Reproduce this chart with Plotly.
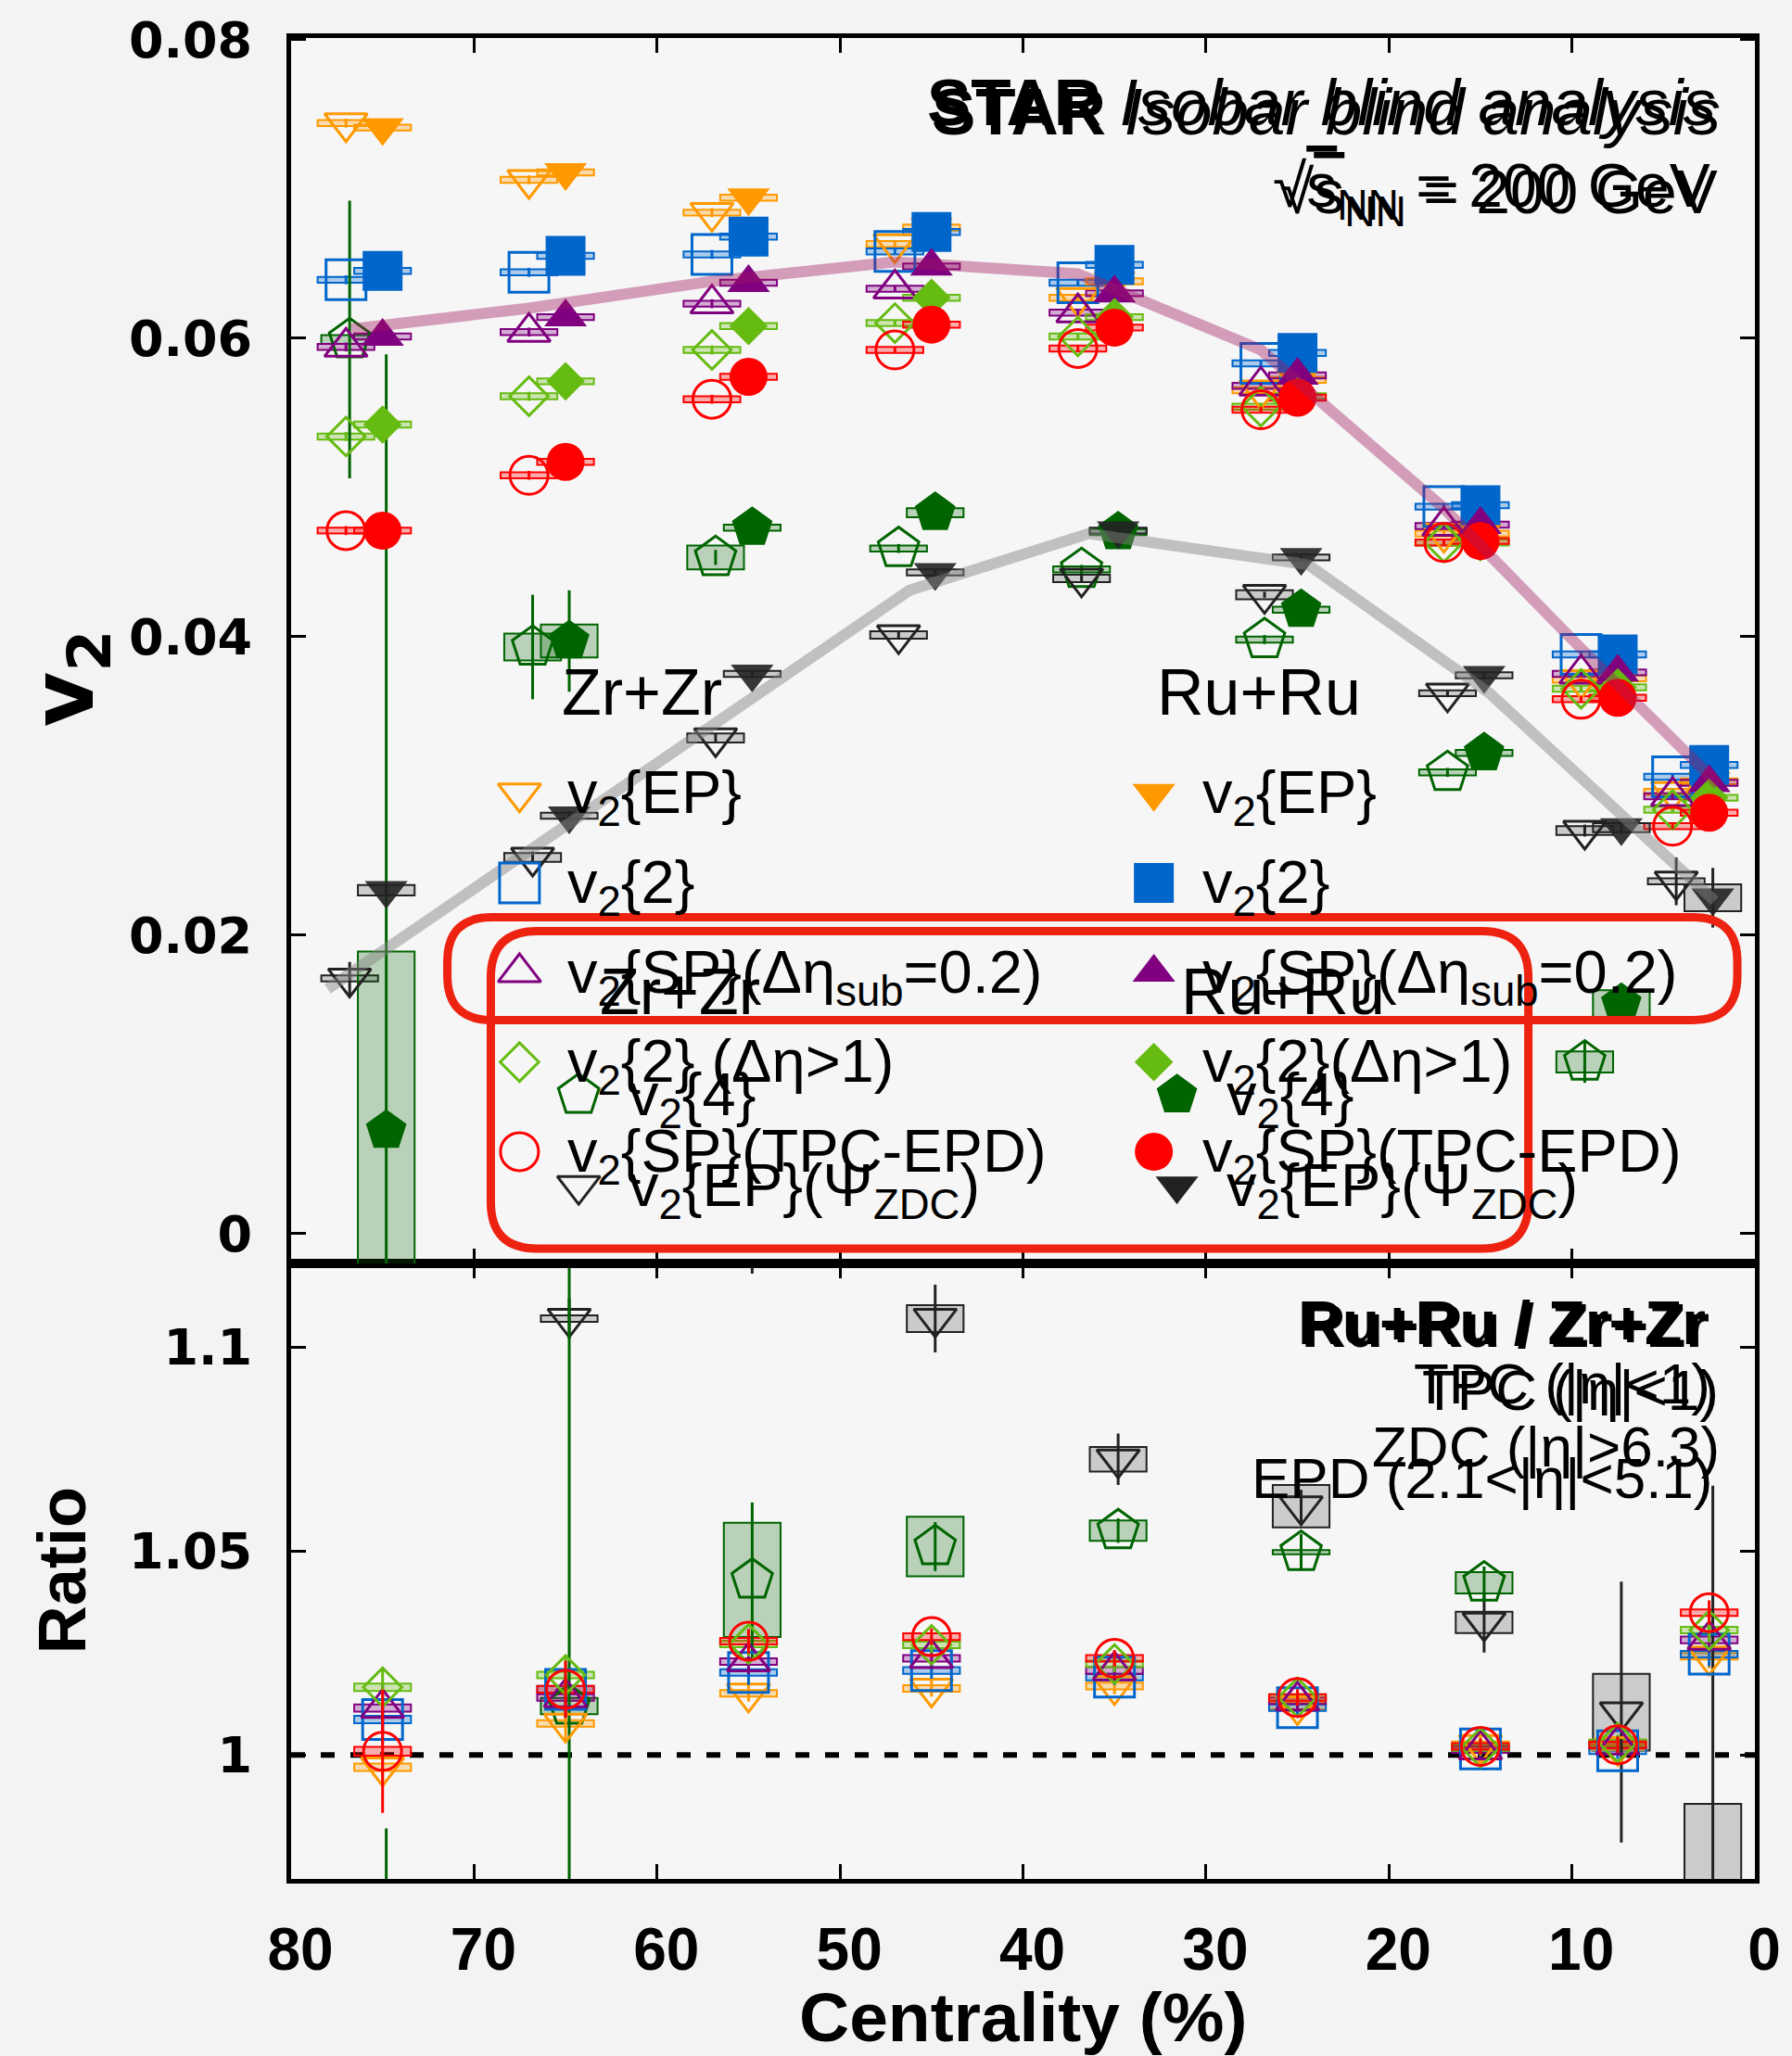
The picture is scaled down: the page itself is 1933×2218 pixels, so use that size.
import plotly.graph_objects as go

# ---------------------------------------------------------------
# Centrality bins (%) and v2 measured in Zr+Zr and Ru+Ru
# ---------------------------------------------------------------
bin_centers = [75, 65, 55, 45, 35, 25, 15, 7.5, 2.5]

zr_v2_ep  = [0.0744, 0.0706, 0.0684, 0.0663, 0.0627, 0.0565, 0.0469, 0.0371, 0.0296]
ru_v2_ep  = [0.0741, 0.0711, 0.0694, 0.0674, 0.0638, 0.0572, 0.0469, 0.0372, 0.0303]
zr_v2_2   = [0.0639, 0.0644, 0.0656, 0.0658, 0.0637, 0.0583, 0.0487, 0.0388, 0.0306]
ru_v2_2   = [0.0645, 0.0655, 0.0668, 0.0671, 0.0649, 0.0590, 0.0488, 0.0388, 0.0314]
zr_v2_sp  = [0.0594, 0.0604, 0.0623, 0.0633, 0.0617, 0.0568, 0.0474, 0.0375, 0.0293]
ru_v2_sp  = [0.0601, 0.0614, 0.0637, 0.0648, 0.0630, 0.0575, 0.0475, 0.0376, 0.0302]
zr_v2_gap = [0.0534, 0.0561, 0.0592, 0.0610, 0.0601, 0.0554, 0.0463, 0.0365, 0.0284]
ru_v2_gap = [0.0542, 0.0571, 0.0608, 0.0627, 0.0614, 0.0561, 0.0463, 0.0366, 0.0292]
zr_v2_epd = [0.0471, 0.0508, 0.0559, 0.0592, 0.0593, 0.0552, 0.0463, 0.0358, 0.0273]
ru_v2_epd = [0.0471, 0.0517, 0.0574, 0.0609, 0.0607, 0.0560, 0.0464, 0.0359, 0.0282]
zr_v2_4   = [0.0599, 0.0393, 0.0453, 0.0459, 0.0445, 0.0398, 0.0309, 0.0115, None]
ru_v2_4   = [0.0069, 0.0397, 0.0473, 0.0483, 0.0470, 0.0418, 0.0322, 0.0154, None]
zr_v2_zdc = [0.0171, 0.0252, 0.0332, 0.0401, 0.0439, 0.0428, 0.0362, 0.0270, 0.0236]
ru_v2_zdc = [0.0230, 0.0280, 0.0375, 0.0443, 0.0471, 0.0453, 0.0374, 0.0272, 0.0225]

# statistical / systematic uncertainties on v2
v2_stat_tpc = [0.0003, 0.0003, 0.0003, 0.0002, 0.0002, 0.0002, 0.0002, 0.0002, 0.0002]
v2_sys_tpc  = [0.0002, 0.0002, 0.0002, 0.0002, 0.0002, 0.0002, 0.0002, 0.0002, 0.0002]
zr_v2_4_stat   = [0.0093, 0.0035, 0.0005, 0.0003, 0.0003, 0.0003, 0.0003, 0.0014, None]
ru_v2_4_stat   = [0.0520, 0.0034, 0.0003, 0.0003, 0.0003, 0.0003, 0.0003, 0.0005, None]
zr_v2_4_sys    = [0.0003, 0.0009, 0.0008, 0.0002, 0.0002, 0.0002, 0.0002, 0.0007, None]
ru_v2_4_sys    = [0.0120, 0.0011, 0.0002, 0.0003, 0.0002, 0.0002, 0.0002, 0.0009, None]
zr_v2_zdc_stat = [0.0011, 0.0004, 0.0003, 0.0002, 0.0002, 0.0002, 0.0002, 0.0004, 0.0016]
ru_v2_zdc_stat = [0.0004, 0.0003, 0.0002, 0.0002, 0.0002, 0.0002, 0.0002, 0.0004, 0.0020]
zr_v2_zdc_sys  = [0.0002, 0.0003, 0.0003, 0.00025, 0.00025, 0.0003, 0.0002, 0.0003, 0.0002]
ru_v2_zdc_sys  = [0.00035, 0.0002, 0.0002, 0.0002, 0.0002, 0.0002, 0.0002, 0.0003, 0.0009]

# Ru+Ru / Zr+Zr ratios
ratio_ep  = [0.997, 1.0077, 1.0151, 1.0163, 1.0169, 1.0120, 1.0025, 1.0020, 1.0242]
ratio_2   = [1.0087, 1.0161, 1.0202, 1.0207, 1.0191, 1.0116, 1.0015, 1.0010, 1.0247]
ratio_sp  = [1.0115, 1.0141, 1.0229, 1.0237, 1.0207, 1.0133, 1.0013, 1.0025, 1.0282]
ratio_gap = [1.0166, 1.0196, 1.0272, 1.0270, 1.0223, 1.0141, 1.0018, 1.0030, 1.0306]
ratio_epd = [1.0009, 1.0161, 1.0279, 1.0290, 1.0237, 1.0141, 1.0021, 1.0025, 1.0349]
ratio_4   = [0.115, 1.012, 1.0429, 1.0511, 1.0550, 1.0497, 1.0422, 1.333, None]
ratio_zdc = [1.345, 1.107, 1.130, 1.107, 1.0725, 1.061, 1.0325, 1.0105, 0.953]

ratio_ep_stat  = [0.004, 0.004, 0.002, 0.002, 0.002, 0.002, 0.002, 0.002, 0.003]
ratio_2_stat   = [0.006, 0.005, 0.003, 0.002, 0.002, 0.002, 0.002, 0.002, 0.003]
ratio_sp_stat  = [0.006, 0.005, 0.003, 0.002, 0.002, 0.002, 0.002, 0.002, 0.003]
ratio_gap_stat = [0.005, 0.005, 0.003, 0.002, 0.002, 0.002, 0.002, 0.002, 0.003]
ratio_epd_stat = [0.0151, 0.007, 0.003, 0.002, 0.002, 0.002, 0.002, 0.002, 0.003]
ratio_4_stat   = [0.867, 0.200, 0.019, 0.006, 0.003, 0.0045, 0.004, 0.100, None]
ratio_zdc_stat = [0.050, 0.005, 0.012, 0.0083, 0.0063, 0.004, 0.0074, 0.032, 0.113]
ratio_sys_tpc  = [0.0009, 0.0008, 0.0008, 0.0008, 0.0008, 0.0008, 0.0008, 0.0008, 0.0008]
ratio_epd_sys  = [0.0011, 0.0008, 0.0008, 0.0008, 0.0008, 0.0008, 0.0008, 0.0008, 0.0008]
ratio_4_sys    = [0.100, 0.002, 0.014, 0.0073, 0.0025, 0.0005, 0.0026, 0.020, None]
ratio_zdc_sys  = [0.010, 0.0008, 0.005, 0.0033, 0.003, 0.0052, 0.0026, 0.0094, 0.035]

# guide curves drawn through the v2 bands
guide_tpc_cent = [76.7, 67, 57, 47, 37, 27, 17, 9.5, 2.0]
guide_tpc_v2   = [0.0606, 0.0620, 0.0638, 0.0651, 0.0643, 0.0592, 0.0486, 0.0392, 0.0301]
guide_zdc_cent = [78.0, 46.2, 36.4, 24.4, 14.5, 2.2]
guide_zdc_v2   = [0.0164, 0.0431, 0.0469, 0.0448, 0.0362, 0.0223]

# ---------------------------------------------------------------
# Page geometry (pixels)
# ---------------------------------------------------------------
W, H = 1933, 2218
PL, PR, PT, PB = 314, 1897, 38, 2027
SPLIT = 1362
FONT = "Liberation Sans"


def fx(px):
    return (px - PL) / (PR - PL)


def fy(py):
    return (PB - py) / (PB - PT)


STYLE = {
    "ep":  dict(symbol="triangle-down", color="#ff9900", size=40),
    "c2":  dict(symbol="square", color="#0066cc", size=43),
    "sp":  dict(symbol="triangle-up", color="#800080", size=40),
    "gap": dict(symbol="diamond", color="#66bb11", size=32),
    "epd": dict(symbol="circle", color="#ff0000", size=41),
    "c4":  dict(symbol="pentagon", color="#006400", size=46),
    "zdc": dict(symbol="triangle-down", color="#222222", size=40),
}
BOX_ALPHA = {"ep": 0.3, "c2": 0.3, "sp": 0.3, "gap": 0.3, "epd": 0.3, "c4": 0.25, "zdc": 0.2}

ZR_SHIFT = 2.0       # Zr+Zr points drawn beside Ru+Ru points
NONTPC_SHIFT = -0.2  # v2{4} and ZDC points
BOX_W = 3.1


def rgba(hexcol, a):
    h = hexcol.lstrip("#")
    r, g, b = int(h[0:2], 16), int(h[2:4], 16), int(h[4:6], 16)
    return f"rgba({r},{g},{b},{a})"


fig = go.Figure()


def add_points(x, y, stat, sys, key, filled, xa, ya, opacity=1.0):
    st = STYLE[key]
    col = st["color"]
    heights = [None if (v is None or s is None) else 2 * s for v, s in zip(y, sys)]
    bases = [None if (v is None or s is None) else v - s for v, s in zip(y, sys)]
    fig.add_trace(go.Bar(
        x=x, y=heights, base=bases, width=BOX_W,
        marker=dict(color=rgba(col, BOX_ALPHA[key]), line=dict(color=col, width=2)),
        xaxis=xa, yaxis=ya, showlegend=False, hoverinfo="skip"))
    sym = st["symbol"] if filled else st["symbol"] + "-open"
    fig.add_trace(go.Scatter(
        x=x, y=y, mode="markers",
        marker=dict(symbol=sym, size=st["size"], color=col, opacity=opacity,
                    line=dict(width=0 if filled else 3, color=col)),
        error_y=dict(type="data", array=stat, color=col, thickness=3, width=0),
        xaxis=xa, yaxis=ya, showlegend=False, hoverinfo="skip"))


zr_x = [c + ZR_SHIFT for c in bin_centers]
ru_x = list(bin_centers)
zr_x_b = [c + NONTPC_SHIFT for c in zr_x]
ru_x_b = [c + NONTPC_SHIFT for c in ru_x]

# ---- upper panel: Zr+Zr (open) then Ru+Ru (filled) ----
add_points(zr_x_b, zr_v2_4, zr_v2_4_stat, zr_v2_4_sys, "c4", False, "x2", "y2")
add_points(zr_x_b, zr_v2_zdc, zr_v2_zdc_stat, zr_v2_zdc_sys, "zdc", False, "x2", "y2")
for key, vals in [("ep", zr_v2_ep), ("c2", zr_v2_2), ("sp", zr_v2_sp),
                  ("gap", zr_v2_gap), ("epd", zr_v2_epd)]:
    add_points(zr_x, vals, v2_stat_tpc, v2_sys_tpc, key, False, "x2", "y2")
add_points(ru_x_b, ru_v2_4, ru_v2_4_stat, ru_v2_4_sys, "c4", True, "x2", "y2")
add_points(ru_x_b, ru_v2_zdc, ru_v2_zdc_stat, ru_v2_zdc_sys, "zdc", True, "x2", "y2", opacity=0.9)
for key, vals in [("ep", ru_v2_ep), ("c2", ru_v2_2), ("sp", ru_v2_sp),
                  ("gap", ru_v2_gap), ("epd", ru_v2_epd)]:
    add_points(ru_x, vals, v2_stat_tpc, v2_sys_tpc, key, True, "x2", "y2")

# guide curves on top of the markers
fig.add_trace(go.Scatter(x=guide_tpc_cent, y=guide_tpc_v2, mode="lines",
                         line=dict(color="rgba(160,25,98,0.4)", width=12),
                         xaxis="x2", yaxis="y2", showlegend=False, hoverinfo="skip"))
fig.add_trace(go.Scatter(x=guide_zdc_cent, y=guide_zdc_v2, mode="lines",
                         line=dict(color="rgba(132,132,132,0.47)", width=12),
                         xaxis="x2", yaxis="y2", showlegend=False, hoverinfo="skip"))

# ---- lower panel: ratios ----
add_points(ru_x_b, ratio_zdc, ratio_zdc_stat, ratio_zdc_sys, "zdc", False, "x", "y")
add_points(ru_x_b, ratio_4, ratio_4_stat, ratio_4_sys, "c4", False, "x", "y")
add_points(ru_x, ratio_ep, ratio_ep_stat, ratio_sys_tpc, "ep", False, "x", "y")
add_points(ru_x, ratio_2, ratio_2_stat, ratio_sys_tpc, "c2", False, "x", "y")
add_points(ru_x, ratio_sp, ratio_sp_stat, ratio_sys_tpc, "sp", False, "x", "y")
add_points(ru_x, ratio_gap, ratio_gap_stat, ratio_sys_tpc, "gap", False, "x", "y")
add_points(ru_x, ratio_epd, ratio_epd_stat, ratio_epd_sys, "epd", False, "x", "y")

fig.add_shape(type="line", xref="x", yref="y", x0=80, x1=0, y0=1, y1=1,
              line=dict(color="black", width=6, dash="15px,17px"), layer="below")

# ---------------------------------------------------------------
# Legend blocks (symbols on a pixel-space overlay axis)
# ---------------------------------------------------------------
S2 = "<sub>2</sub>"
SUB = "<sub>sub</sub>"
ZDC = "<sub>ZDC</sub>"

LEG_TOP, LEG_STEP = 854, 96.8
main_keys = ["ep", "c2", "sp", "gap", "epd"]
zr_texts = [f"v{S2}{{EP}}", f"v{S2}{{2}}", f"v{S2}{{SP}}(Δη{SUB}=0.2)",
            f"v{S2}{{2}} (Δη>1)", f"v{S2}{{SP}}(TPC-EPD)"]
ru_texts = [f"v{S2}{{EP}}", f"v{S2}{{2}}", f"v{S2}{{SP}}(Δη{SUB}=0.2)",
            f"v{S2}{{2}}(Δη>1)", f"v{S2}{{SP}}(TPC-EPD)"]
extra_keys = ["c4", "zdc"]
extra_texts = [f"v{S2}{{4}}", f"v{S2}{{EP}}(Ψ{ZDC})"]
EXTRA_ROWS = [1180, 1278]

blocks = [
    # header text, header x, header y, symbol x, text x, keys, texts, rows, filled
    ("Zr+Zr", 693, 745, 561, 612, main_keys, zr_texts,
     [LEG_TOP + LEG_STEP * i for i in range(5)], False),
    ("Ru+Ru", 1361, 745, 1247, 1298, main_keys, ru_texts,
     [LEG_TOP + LEG_STEP * i for i in range(5)], True),
    ("Zr+Zr", 735, 1069, 625, 678, extra_keys, extra_texts, EXTRA_ROWS, False),
    ("Ru+Ru", 1387, 1069, 1272, 1325, extra_keys, extra_texts, EXTRA_ROWS, True),
]


def label(text, px, py, size, xanchor="left", yanchor="middle", family=FONT,
          weight="normal", angle=0):
    fig.add_annotation(text=text, x=fx(px), y=fy(py), xref="paper", yref="paper",
                       showarrow=False, xanchor=xanchor, yanchor=yanchor,
                       textangle=angle, borderpad=0,
                       font=dict(family=family, size=size, color="black", weight=weight))


for head, hx, hy, sx, tx, keys, texts, rows, filled in blocks:
    label(head, hx, hy, 70, xanchor="center")
    for key, txt, ry in zip(keys, texts, rows):
        st = STYLE[key]
        sym = st["symbol"] if filled else st["symbol"] + "-open"
        fig.add_trace(go.Scatter(
            x=[sx], y=[ry], mode="markers", xaxis="x3", yaxis="y3",
            marker=dict(symbol=sym, size=st["size"], color=st["color"],
                        line=dict(width=0 if filled else 3, color=st["color"])),
            showlegend=False, hoverinfo="skip", cliponaxis=False))
        label(txt, tx, ry + 4, 65)


def rrect_path(x0, y0, x1, y1, r):
    X0, X1, Y0, Y1 = fx(x0), fx(x1), fy(y0), fy(y1)
    rx, ry = r / (PR - PL), r / (PB - PT)
    pts = [
        f"M{X0 + rx:.5f},{Y0:.5f}", f"L{X1 - rx:.5f},{Y0:.5f}",
        f"Q{X1:.5f},{Y0:.5f} {X1:.5f},{Y0 - ry:.5f}", f"L{X1:.5f},{Y1 + ry:.5f}",
        f"Q{X1:.5f},{Y1:.5f} {X1 - rx:.5f},{Y1:.5f}", f"L{X0 + rx:.5f},{Y1:.5f}",
        f"Q{X0:.5f},{Y1:.5f} {X0:.5f},{Y1 + ry:.5f}", f"L{X0:.5f},{Y0 - ry:.5f}",
        f"Q{X0:.5f},{Y0:.5f} {X0 + rx:.5f},{Y0:.5f}", "Z",
    ]
    return " ".join(pts)


for box in [(483, 988, 1878, 1099, 48), (530, 1003, 1652, 1346, 50)]:
    fig.add_shape(type="path", xref="paper", yref="paper", path=rrect_path(*box),
                  line=dict(color="#ee2211", width=9), layer="above")

# ---------------------------------------------------------------
# Header texts
# ---------------------------------------------------------------
for dx, dy in [(0, 0), (5, 10)]:
    label("<b>STAR</b> <i>Isobar blind analysis</i>", 1856 + dx, 108 + dy, 71, xanchor="right")
for dx, dy in [(0, 0), (8, 7)]:
    label("√<span style=\"text-decoration:overline\">s</span><sub>NN</sub> = 200 GeV",
          1850 + dx, 202 + dy, 66, xanchor="right")
for dx, dy in [(0, 0), (4, 3)]:
    label("<b>Ru+Ru / Zr+Zr</b>", 1845 + dx, 1426 + dy, 66, xanchor="right")
for dx, dy in [(0, 0), (9, 7)]:
    label("TPC (|η|<1)", 1850 + dx, 1492 + dy, 62, xanchor="right")
label("ZDC (|η|>6.3)", 1860, 1560, 62, xanchor="right")
label("EPD (2.1<|η|<5.1)", 1852, 1594, 62, xanchor="right")

# axis titles
label("<b>v<sub>2</sub></b>", 74, 730, 92, xanchor="center", family="DejaVu Sans", angle=-90)
label("<b>Ratio</b>", 66, 1694, 72, xanchor="center", angle=-90)
label("<b>Centrality (%)</b>", 1105, 2176, 75, xanchor="center")

# ---------------------------------------------------------------
# Axes
# ---------------------------------------------------------------
split_frac = fy(SPLIT)
common_x = dict(range=[80, 0], tickvals=[80, 70, 60, 50, 40, 30, 20, 10, 0],
                ticks="inside", ticklen=16, tickwidth=2.5, tickcolor="black",
                showline=True, linewidth=5, linecolor="black", mirror="allticks",
                showgrid=False, zeroline=False)
common_y = dict(ticks="inside", ticklen=16, tickwidth=2.5, tickcolor="black",
                showline=True, linewidth=5, linecolor="black", mirror="allticks",
                showgrid=False, zeroline=False,
                tickfont=dict(family="DejaVu Sans", size=54, color="black", weight="bold"),
                ticklabelstandoff=26)

fig.update_layout(
    width=W, height=H,
    margin=dict(l=PL, r=W - PR, t=PT, b=H - PB, pad=0),
    paper_bgcolor="#f3f3f3", plot_bgcolor="#f6f6f6",
    showlegend=False, barmode="overlay",
    xaxis=dict(domain=[0, 1], anchor="y", **common_x,
               tickfont=dict(family=FONT, size=64, color="black", weight="bold"),
               ticklabelstandoff=16, ticklabelshift=-10),
    xaxis2=dict(domain=[0, 1], anchor="y2", matches="x", showticklabels=False, **common_x),
    yaxis=dict(domain=[0, split_frac], anchor="x", range=[0.9696, 1.1205],
               tickvals=[1, 1.05, 1.1], ticktext=["1", "1.05", "1.1"], **common_y),
    yaxis2=dict(domain=[split_frac, 1], anchor="x2", range=[-0.002, 0.0801],
                tickvals=[0, 0.02, 0.04, 0.06, 0.08],
                ticktext=["0", "0.02", "0.04", "0.06", "0.08"], **common_y),
    xaxis3=dict(overlaying="x2", anchor="y3", range=[PL, PR], visible=False),
    yaxis3=dict(overlaying="y2", anchor="x3", range=[SPLIT, PT], visible=False),
)

fig.write_html("out.html")
